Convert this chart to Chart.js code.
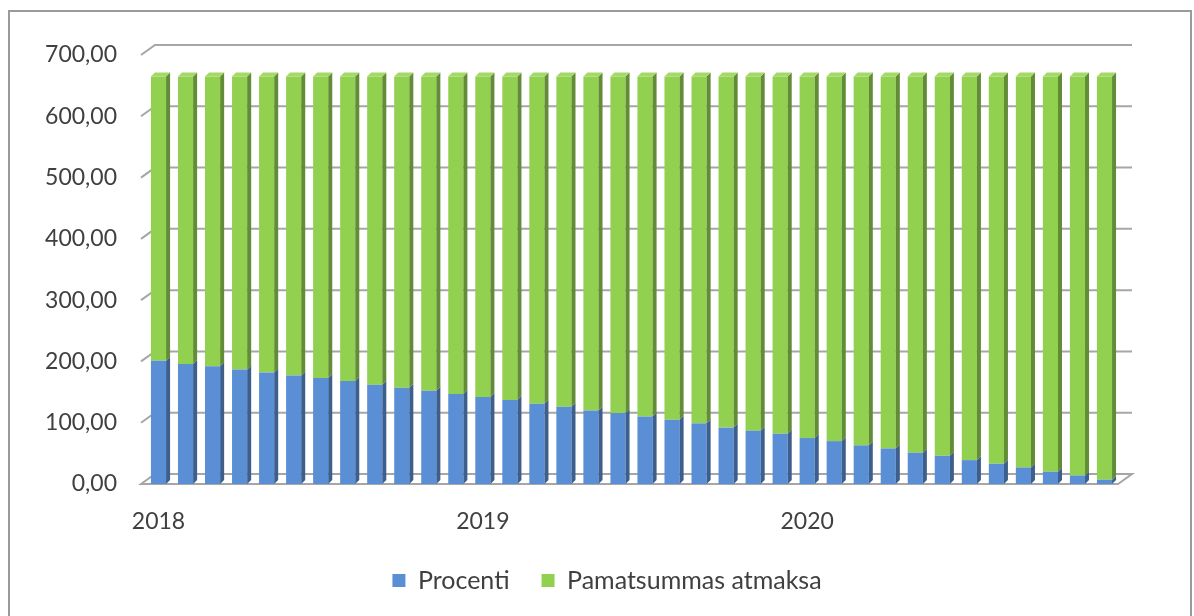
<!DOCTYPE html>
<html>
<head>
<meta charset="utf-8">
<script src="https://cdn.jsdelivr.net/npm/chart.js@4"></script>
<style>
  html, body { margin: 0; padding: 0; background: #fff; }
  #wrap { width: 1194px; height: 616px; }
</style>
</head>
<body>
<div id="wrap"><canvas id="grafiks" width="1194" height="616"></canvas></div>
<script>
// mēneši (kategorijas)
const menesi = [
  '01.2018','02.2018','03.2018','04.2018','05.2018','06.2018','07.2018','08.2018','09.2018','10.2018','11.2018','12.2018',
  '01.2019','02.2019','03.2019','04.2019','05.2019','06.2019','07.2019','08.2019','09.2019','10.2019','11.2019','12.2019',
  '01.2020','02.2020','03.2020','04.2020','05.2020','06.2020','07.2020','08.2020','09.2020','10.2020','11.2020','12.2020'
];
const procenti = [201,196,192,187,182,177,173,168,162,157,152,147,142,137,131,126,120,116,110,105,99,92,87,82,75,70,63,58,51,46,39,33,27,20,14,7];
const pamatsumma = [464,469,473,478,483,488,492,497,503,508,513,518,523,528,534,539,545,549,555,560,566,573,578,583,590,595,602,607,614,619,626,632,638,645,651,658];
const yTicks = [0,100,200,300,400,500,600,700];

const krasas = {
  zila: '#5B8FD5', zilaSans: '#3C5F8E',
  zala: '#92D050', zalaSans: '#628C35', zalaVirsa: '#A3DA67',
  rezgis: '#A6A6A6', teksts: '#404040'
};

// fons un rāmis
const ramis = {
  id: 'ramis',
  beforeDraw(chart) {
    const c = chart.ctx;
    c.save();
    c.fillStyle = '#fff';
    c.fillRect(0, 0, chart.width, chart.height);
    c.strokeStyle = '#9a9a9a';
    c.lineWidth = 2;
    c.strokeRect(9, 11, 1182, 620);
    c.restore();
  }
};

// aizmugurējā siena un grīda (3D)
const DX = 14, DY = -10;
const siena = {
  id: 'siena',
  beforeDatasetsDraw(chart) {
    const c = chart.ctx, y = chart.scales.y, a = chart.chartArea;
    const kreisi = a.left - 4;
    c.save();
    c.strokeStyle = krasas.rezgis;
    c.lineWidth = 2;
    yTicks.forEach(v => {
      if (v === 0) return;
      const py = y.getPixelForValue(v);
      c.beginPath();
      c.moveTo(kreisi, py);
      c.lineTo(kreisi + DX, py + DY);
      c.lineTo(a.right + DX, py + DY);
      c.stroke();
    });
    // grīda
    const p0 = y.getPixelForValue(0);
    c.fillStyle = '#fff';
    c.beginPath();
    c.moveTo(kreisi, p0);
    c.lineTo(kreisi + DX, p0 + DY);
    c.lineTo(a.right + DX, p0 + DY);
    c.lineTo(a.right, p0);
    c.closePath();
    c.fill();
    c.stroke();
    c.restore();
  }
};

// stabiņu sānu un augšas skaldnes
const BX = 4, BY = -4;
const telpa = {
  id: 'telpa',
  afterDatasetsDraw(chart) {
    const c = chart.ctx;
    const sani = [krasas.zilaSans, krasas.zalaSans];
    c.save();
    chart.data.datasets.forEach((ds, di) => {
      const meta = chart.getDatasetMeta(di);
      meta.data.forEach(el => {
        const p = el.getProps(['x', 'y', 'base', 'width'], true);
        const r = p.x + p.width / 2, l = p.x - p.width / 2;
        c.fillStyle = sani[di];
        c.beginPath();
        c.moveTo(r, p.y);
        c.lineTo(r + BX, p.y + BY);
        c.lineTo(r + BX, p.base + BY);
        c.lineTo(r, p.base);
        c.closePath();
        c.fill();
        if (di === chart.data.datasets.length - 1) {
          c.fillStyle = krasas.zalaVirsa;
          c.beginPath();
          c.moveTo(l, p.y);
          c.lineTo(l + BX, p.y + BY);
          c.lineTo(r + BX, p.y + BY);
          c.lineTo(r, p.y);
          c.closePath();
          c.fill();
        }
      });
    });
    c.restore();
  }
};

const fonts = { family: 'Lato, "Liberation Sans", sans-serif', size: 23 };

new Chart(document.getElementById('grafiks'), {
  type: 'bar',
  data: {
    labels: menesi,
    datasets: [
      { label: 'Procenti', data: procenti, backgroundColor: krasas.zila, borderWidth: 0 },
      { label: 'Pamatsummas atmaksa', data: pamatsumma, backgroundColor: krasas.zala, borderWidth: 0 }
    ]
  },
  options: {
    responsive: false,
    animation: false,
    layout: { padding: { left: 20, right: 0, top: 55, bottom: 13 } },
    datasets: { bar: { categoryPercentage: 1, barPercentage: 0.56 } },
    scales: {
      x: {
        stacked: true,
        grid: { display: false, drawTicks: false },
        border: { display: false },
        afterFit: s => { s.height = 52; },
        ticks: {
          autoSkip: false, maxRotation: 0, padding: 24,
          color: krasas.teksts, font: fonts,
          callback: (v, i) => i % 12 === 0 ? menesi[i].slice(3) : ''
        }
      },
      y: {
        stacked: true,
        min: 0, max: 700,
        grid: { display: false, drawTicks: false },
        border: { display: false },
        afterFit: s => { s.width = 125; },
        ticks: {
          stepSize: 100, padding: 28,
          color: krasas.teksts, font: fonts,
          callback: v => v.toFixed(2).replace('.', ',')
        }
      },
      labaMala: {
        type: 'linear', position: 'right', display: true,
        grid: { display: false, drawTicks: false },
        border: { display: false },
        ticks: { display: false },
        afterFit: s => { s.width = 76; }
      }
    },
    plugins: {
      legend: {
        position: 'bottom',
        labels: { boxWidth: 13, boxHeight: 13, padding: 32, color: krasas.teksts, font: { family: fonts.family, size: 25 } }
      },
      tooltip: { enabled: false }
    }
  },
  plugins: [ramis, siena, telpa]
});
</script>
</body>
</html>
